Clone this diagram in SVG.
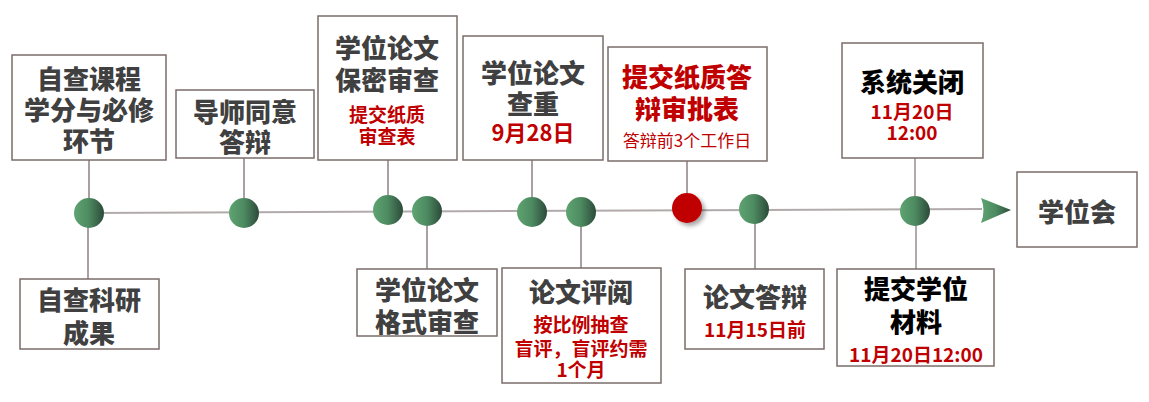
<svg xmlns="http://www.w3.org/2000/svg" width="1149" height="402" viewBox="0 0 1149 402">
<defs>
<linearGradient id="g" x1="0" y1="0" x2="1" y2="0">
<stop offset="0" stop-color="#5fa472"/>
<stop offset="0.5" stop-color="#4d8a60"/>
<stop offset="1" stop-color="#2c4a3a"/>
</linearGradient>
<filter id="sh" x="-50%" y="-50%" width="200%" height="200%">
<feDropShadow dx="3" dy="3" stdDeviation="2" flood-color="#000" flood-opacity="0.35"/>
</filter>
<style>
.box{fill:#fff;stroke:#7a6e6a;stroke-width:1.5}
.ln{stroke:#8c8282;stroke-width:1.5;fill:none}
.main{stroke:#b2aaaa;stroke-width:2;fill:none}
.t{font-family:"Noto Sans CJK SC","Liberation Sans",sans-serif;font-weight:bold;text-anchor:middle;dominant-baseline:central}
.big{font-size:26px;fill:#404040;font-weight:900}
.blk{font-size:26px;fill:#000;font-weight:900}
.red{fill:#c00000}
.rb{font-size:26px;fill:#c00000;font-weight:900}
.s19{font-size:19px}
.s22{font-size:22px}
.s17{font-size:17px;font-weight:normal}
.dot{fill:url(#g)}
</style>
</defs>
<g id="connectors">
<line class="main" x1="89" y1="213" x2="982" y2="209"/>
<line class="ln" x1="89" y1="160" x2="89" y2="213"/>
<line class="ln" x1="88" y1="213" x2="88" y2="279"/>
<line class="ln" x1="244" y1="158" x2="244" y2="213"/>
<line class="ln" x1="388" y1="160" x2="388" y2="210"/>
<line class="ln" x1="427" y1="211" x2="427" y2="269"/>
<line class="ln" x1="532" y1="160" x2="532" y2="212"/>
<line class="ln" x1="581" y1="212" x2="581" y2="268"/>
<line class="ln" x1="687" y1="161" x2="687" y2="208"/>
<line class="ln" x1="755" y1="209" x2="755" y2="269"/>
<line class="main" x1="915" y1="158" x2="915" y2="211"/>
<line class="main" x1="916" y1="211" x2="916" y2="269"/>
<path d="M981,198 L1011,210 L981,223 Q986,210 981,198 Z" fill="url(#g)"/>
</g>
<g id="dots">
<circle class="dot" cx="89" cy="213" r="15"/>
<circle class="dot" cx="244" cy="213" r="15"/>
<circle class="dot" cx="388" cy="210" r="15"/>
<circle class="dot" cx="427" cy="211" r="15"/>
<circle class="dot" cx="532" cy="212" r="15"/>
<circle class="dot" cx="581" cy="212" r="15"/>
<circle cx="687" cy="208" r="15" fill="#c00000" filter="url(#sh)"/>
<circle class="dot" cx="754" cy="209" r="15"/>
<circle class="dot" cx="915" cy="211" r="15"/>
</g>
<g id="n1">
<rect class="box" x="12" y="55" width="154" height="105"/>
<text class="t big" x="89" y="77">自查课程</text>
<text class="t big" x="89" y="108">学分与必修</text>
<text class="t big" x="89" y="139">环节</text>
</g>
<g id="n2">
<rect class="box" x="176" y="90" width="138" height="68"/>
<text class="t big" x="245" y="110">导师同意</text>
<text class="t big" x="245" y="140">答辩</text>
</g>
<g id="n3">
<rect class="box" x="318" y="16" width="139" height="144"/>
<text class="t big" x="387" y="46">学位论文</text>
<text class="t big" x="387" y="78">保密审查</text>
<text class="t red s19" x="387" y="113">提交纸质</text>
<text class="t red s19" x="387" y="135">审查表</text>
</g>
<g id="n4">
<rect class="box" x="463" y="36" width="140" height="124"/>
<text class="t big" x="533" y="71">学位论文</text>
<text class="t big" x="533" y="102">查重</text>
<text class="t red s22" x="533" y="131">9月28日</text>
</g>
<g id="n5">
<rect class="box" x="608" y="47" width="159" height="114"/>
<text class="t rb" x="687" y="75">提交纸质答</text>
<text class="t rb" x="687" y="107">辩审批表</text>
<text class="t red s17" x="687" y="139">答辩前3个工作日</text>
</g>
<g id="n6">
<rect class="box" x="842" y="43" width="141" height="115"/>
<text class="t blk" x="912" y="80">系统关闭</text>
<text class="t red s19" x="912" y="110">11月20日</text>
<text class="t red s19" x="912" y="131">12:00</text>
</g>
<g id="n7">
<rect class="box" x="1017" y="172" width="120" height="75"/>
<text class="t big" x="1077" y="210">学位会</text>
</g>
<g id="n8">
<rect class="box" x="20" y="279" width="139" height="70"/>
<text class="t big" x="89" y="298">自查科研</text>
<text class="t big" x="89" y="331">成果</text>
</g>
<g id="n9">
<rect class="box" x="357" y="269" width="140" height="67"/>
<text class="t big" x="427" y="288">学位论文</text>
<text class="t big" x="427" y="320">格式审查</text>
</g>
<g id="n10">
<rect class="box" x="502" y="268" width="159" height="115"/>
<text class="t big" x="581" y="290">论文评阅</text>
<text class="t red s19" x="581" y="323">按比例抽查</text>
<text class="t red s19" x="581" y="347">盲评，盲评约需</text>
<text class="t red s19" x="581" y="368">1个月</text>
</g>
<g id="n11">
<rect class="box" x="685" y="269" width="139" height="80"/>
<text class="t big" x="755" y="295">论文答辩</text>
<text class="t red s19" x="755" y="328">11月15日前</text>
</g>
<g id="n12">
<rect class="box" x="837" y="269" width="157" height="97"/>
<text class="t blk" x="916" y="287">提交学位</text>
<text class="t blk" x="916" y="320">材料</text>
<text class="t red s19" x="916" y="353">11月20日12:00</text>
</g>
</svg>
